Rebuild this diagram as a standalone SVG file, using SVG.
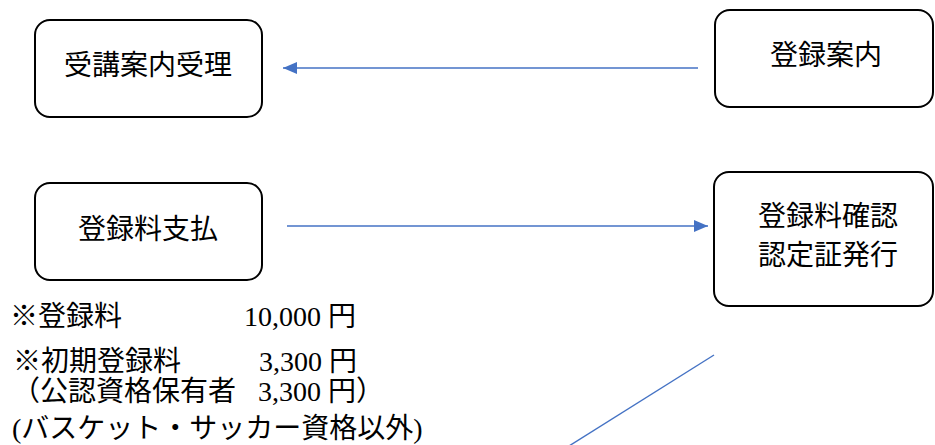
<svg xmlns="http://www.w3.org/2000/svg" width="935" height="445" viewBox="0 0 935 445">
<style>
.box{fill:#fff;stroke:#000;stroke-width:2}
.t{font-family:"Liberation Serif","Noto Sans CJK JP",serif;font-size:28px;fill:#000}
.c{text-anchor:middle}
.ln{stroke:#4472C4;stroke-width:1.4;fill:none}
</style>
<defs>
<marker id="ah" markerUnits="userSpaceOnUse" markerWidth="14" markerHeight="12" refX="14" refY="6" orient="auto">
<path d="M0,0 L14,6 L0,12 Z" fill="#4472C4"/>
</marker>
</defs>
<rect width="935" height="445" fill="#fff"/>
<g id="connectors">
<line class="ln" x1="698" y1="68" x2="283" y2="68" marker-end="url(#ah)"/>
<line class="ln" x1="287" y1="226" x2="708" y2="226" marker-end="url(#ah)"/>
<line class="ln" x1="714" y1="355" x2="569" y2="446"/>
</g>
<g id="node-juko">
<rect class="box" x="35" y="20" width="227" height="97" rx="15"/>
<text class="t c" x="148" y="75">受講案内受理</text>
</g>
<g id="node-toroku-annai">
<rect class="box" x="715" y="10" width="218" height="97" rx="15"/>
<text class="t c" x="826" y="65">登録案内</text>
</g>
<g id="node-shiharai">
<rect class="box" x="35" y="183" width="227" height="97" rx="15"/>
<text class="t c" x="148" y="239">登録料支払</text>
</g>
<g id="node-kakunin">
<rect class="box" x="714" y="172" width="219" height="134" rx="15"/>
<text class="t c" x="828" y="226">登録料確認</text>
<text class="t c" x="828" y="265">認定証発行</text>
</g>
<g id="notes">
<text class="t" y="326"><tspan x="10">※登録料</tspan><tspan x="244">10,000 円</tspan></text>
<text class="t" y="371"><tspan x="13">※初期登録料</tspan><tspan x="259">3,300 円</tspan></text>
<text class="t" y="401"><tspan x="12">（公認資格保有者</tspan><tspan x="258">3,300 円）</tspan></text>
<text class="t" y="438" x="12">(バスケット・サッカー資格以外)</text>
</g>
</svg>
